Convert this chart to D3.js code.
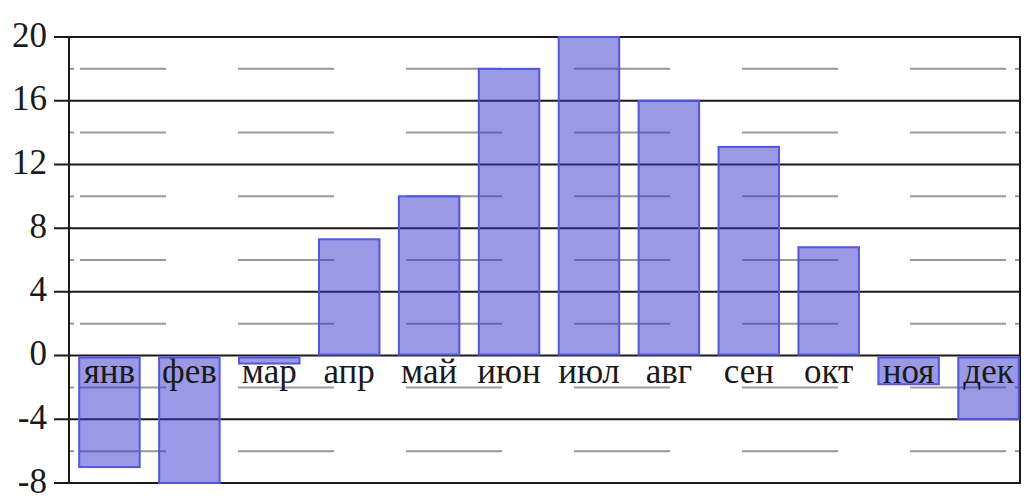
<!DOCTYPE html>
<html>
<head>
<meta charset="utf-8">
<script src="https://cdn.jsdelivr.net/npm/d3@7"></script>
<style>
  html, body { margin: 0; padding: 0; background: #fff; }
  svg { display: block; }
  text { font-family: "Liberation Serif", "Times New Roman", serif; fill: #1a1a1a; }
</style>
</head>
<body>
<svg id="chart" width="1028" height="504"></svg>
<script>
const months = ["янв", "фев", "мар", "апр", "май", "июн", "июл", "авг", "сен", "окт", "ноя", "дек"];
const values = [-7, -8, -0.5, 7.3, 10, 18, 20, 16, 13.1, 6.8, -1.8, -4];
const majorTicks = [20, 16, 12, 8, 4, 0, -4, -8];
const minorTicks = [18, 14, 10, 6, 2, -2, -6];

(function () {
const svg = d3.select("#chart");
const pLeft = 69, pRight = 1020, pTop = 37, pBottom = 483;

const y = d3.scaleLinear().domain([-8, 20]).range([pBottom, pTop]);
const x = d3.scaleBand().domain(months).range([69.5, 1028.5]).paddingInner(0.243).paddingOuter(0.1215);

// major gridlines + outer tick marks
svg.append("g").selectAll("line").data(majorTicks).join("line")
  .attr("x1", pLeft - 15).attr("x2", pRight)
  .attr("y1", d => y(d)).attr("y2", d => y(d))
  .attr("stroke", "#1a1a1a").attr("stroke-width", 2);

// minor dashed gridlines
svg.append("g").selectAll("line").data(minorTicks).join("line")
  .attr("x1", pLeft + 11).attr("x2", pRight)
  .attr("y1", d => y(d)).attr("y2", d => y(d))
  .attr("stroke", "#999").attr("stroke-width", 2)
  .attr("stroke-dasharray", "96 72").attr("stroke-dashoffset", 10);

// minor tick marks inside frame (left and right)
const mt = svg.append("g");
mt.selectAll("line.l").data(minorTicks).join("line").attr("class", "l")
  .attr("x1", pLeft).attr("x2", pLeft + 5)
  .attr("y1", d => y(d)).attr("y2", d => y(d))
  .attr("stroke", "#999").attr("stroke-width", 2);
mt.selectAll("line.r").data(minorTicks).join("line").attr("class", "r")
  .attr("x1", pRight - 5).attr("x2", pRight)
  .attr("y1", d => y(d)).attr("y2", d => y(d))
  .attr("stroke", "#999").attr("stroke-width", 2);

// frame verticals
svg.append("line").attr("x1", pLeft).attr("x2", pLeft).attr("y1", pTop).attr("y2", pBottom)
  .attr("stroke", "#1a1a1a").attr("stroke-width", 2);
svg.append("line").attr("x1", pRight).attr("x2", pRight).attr("y1", pTop - 1).attr("y2", pBottom + 1)
  .attr("stroke", "#1a1a1a").attr("stroke-width", 2);

// bars
svg.append("g").selectAll("rect").data(months).join("rect")
  .attr("x", d => x(d))
  .attr("width", x.bandwidth())
  .attr("y", (d, i) => values[i] >= 0 ? y(values[i]) : y(0) + 2)
  .attr("height", (d, i) => values[i] >= 0 ? y(0) - y(values[i]) - 1 : y(values[i]) - y(0) - 2)
  .attr("fill", "#3333cc").attr("fill-opacity", 0.5)
  .attr("stroke", "#5555dd").attr("stroke-width", 2);

// y tick labels
svg.append("g").selectAll("text").data(majorTicks).join("text")
  .attr("x", 47).attr("y", d => y(d) + 9.5)
  .attr("text-anchor", "end")
  .attr("font-size", 35)
  .text(d => d);

// month labels
svg.append("g").selectAll("text").data(months).join("text")
  .attr("x", d => x(d) + x.bandwidth() / 2)
  .attr("y", y(0) + 27)
  .attr("text-anchor", "middle")
  .attr("font-size", 35)
  .text(d => d);
})();
</script>
</body>
</html>
